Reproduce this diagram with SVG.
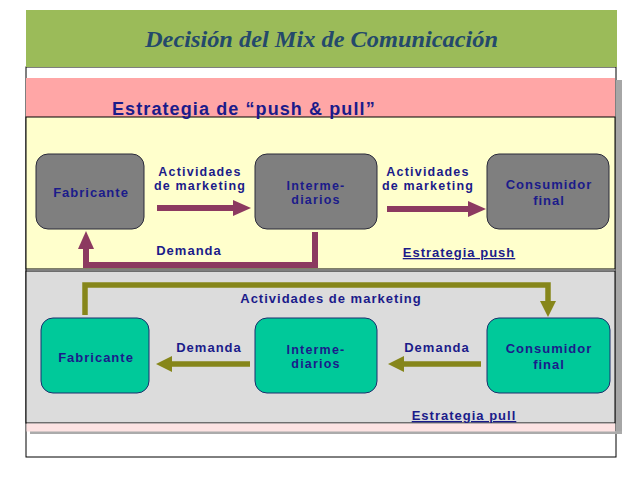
<svg xmlns="http://www.w3.org/2000/svg" width="638" height="479" viewBox="0 0 638 479">
<style>
.t{font-family:"Liberation Sans",Arial,sans-serif;font-weight:bold;font-size:13px;fill:#1b1b8a;letter-spacing:1px;text-anchor:middle}
.s{font-size:12.5px;letter-spacing:1.2px}
.gray{fill:#7f7f7f;stroke:#2a2a3a;stroke-width:1}
.teal{fill:#00c99a;stroke:#1a2f6e;stroke-width:1}
.m{fill:none;stroke:#8c3a60;stroke-width:6}
.o{fill:none;stroke:#86861a;stroke-width:5.5}
.u{text-decoration:underline}
</style>
<defs>
<marker id="am" markerUnits="userSpaceOnUse" markerWidth="20" markerHeight="20" refX="1" refY="8" orient="auto" overflow="visible">
<path d="M0,0 L18,8 L0,16 z" fill="#8c3a60"/>
</marker>
<marker id="ao" markerUnits="userSpaceOnUse" markerWidth="20" markerHeight="20" refX="1" refY="8" orient="auto" overflow="visible">
<path d="M0,0 L16,8 L0,16 z" fill="#86861a"/>
</marker>
</defs>
<rect width="638" height="479" fill="#ffffff"/>
<g id="background">
<rect x="26" y="67" width="590" height="390" fill="#ffffff" stroke="#000" stroke-width="1"/>
<rect x="26" y="10" width="591" height="57" fill="#9bbb59"/>
<text x="321.5" y="47" font-family="'Liberation Serif','Times New Roman',serif" font-weight="bold" font-style="italic" font-size="24" fill="#24496b" text-anchor="middle" textLength="353" lengthAdjust="spacingAndGlyphs">Decisión del Mix de Comunicación</text>
<rect x="616" y="80" width="6" height="353" fill="#a6a6a6"/>
<rect x="30" y="431" width="592" height="3" fill="#ababab"/>
<rect x="26" y="78" width="589" height="39" fill="#ffa6a6"/>
<rect x="26" y="117" width="589" height="152" fill="#ffffcc" stroke="#000" stroke-width="1"/>
<rect x="26" y="271" width="589" height="152" fill="#dcdcdc" stroke="#000" stroke-width="1"/>
<rect x="26.5" y="423.5" width="588.5" height="8" fill="#fde3e3"/>
<text x="112" y="115" font-family="'Liberation Sans',Arial,sans-serif" font-weight="bold" font-size="18" fill="#1b1b8a" letter-spacing="1.1">Estrategia de “push &amp; pull”</text>
</g>
<g id="connectors">
<path class="m" d="M157,208 H234" marker-end="url(#am)"/>
<path class="m" d="M387,209 H469" marker-end="url(#am)"/>
<path class="m" d="M315,232 V265 H86 V248" marker-end="url(#am)"/>
<path class="o" d="M85,315 V285 H548 V302" marker-end="url(#ao)"/>
<path class="o" d="M250,364 H171" marker-end="url(#ao)"/>
<path class="o" d="M481,364 H403" marker-end="url(#ao)"/>
<text class="t s" x="200" y="176">Actividades</text>
<text class="t s" x="200" y="190">de marketing</text>
<text class="t s" x="428" y="176">Actividades</text>
<text class="t s" x="428" y="190">de marketing</text>
<text class="t" x="189" y="255">Demanda</text>
<text class="t u" x="459" y="257">Estrategia push</text>
<text class="t" x="331" y="303">Actividades de marketing</text>
<text class="t" x="209" y="352">Demanda</text>
<text class="t" x="437" y="352">Demanda</text>
<text class="t u" x="464" y="420">Estrategia pull</text>
</g>
<g id="fabricante-push">
<rect class="gray" x="36" y="154" width="108" height="75" rx="12"/>
<text class="t" x="91" y="197">Fabricante</text>
</g>
<g id="intermediarios-push">
<rect class="gray" x="255" y="154" width="122" height="75" rx="12"/>
<text class="t s" x="316" y="190">Interme-</text>
<text class="t s" x="316" y="204">diarios</text>
</g>
<g id="consumidor-push">
<rect class="gray" x="487" y="154" width="122" height="75" rx="12"/>
<text class="t" x="549" y="189">Consumidor</text>
<text class="t" x="549" y="205">final</text>
</g>
<g id="fabricante-pull">
<rect class="teal" x="41" y="318" width="108" height="75" rx="12"/>
<text class="t" x="96" y="362">Fabricante</text>
</g>
<g id="intermediarios-pull">
<rect class="teal" x="255" y="318" width="122" height="75" rx="12"/>
<text class="t s" x="316" y="354">Interme-</text>
<text class="t s" x="316" y="368">diarios</text>
</g>
<g id="consumidor-pull">
<rect class="teal" x="487" y="318" width="123" height="75" rx="12"/>
<text class="t" x="549" y="353">Consumidor</text>
<text class="t" x="549" y="369">final</text>
</g>
</svg>
